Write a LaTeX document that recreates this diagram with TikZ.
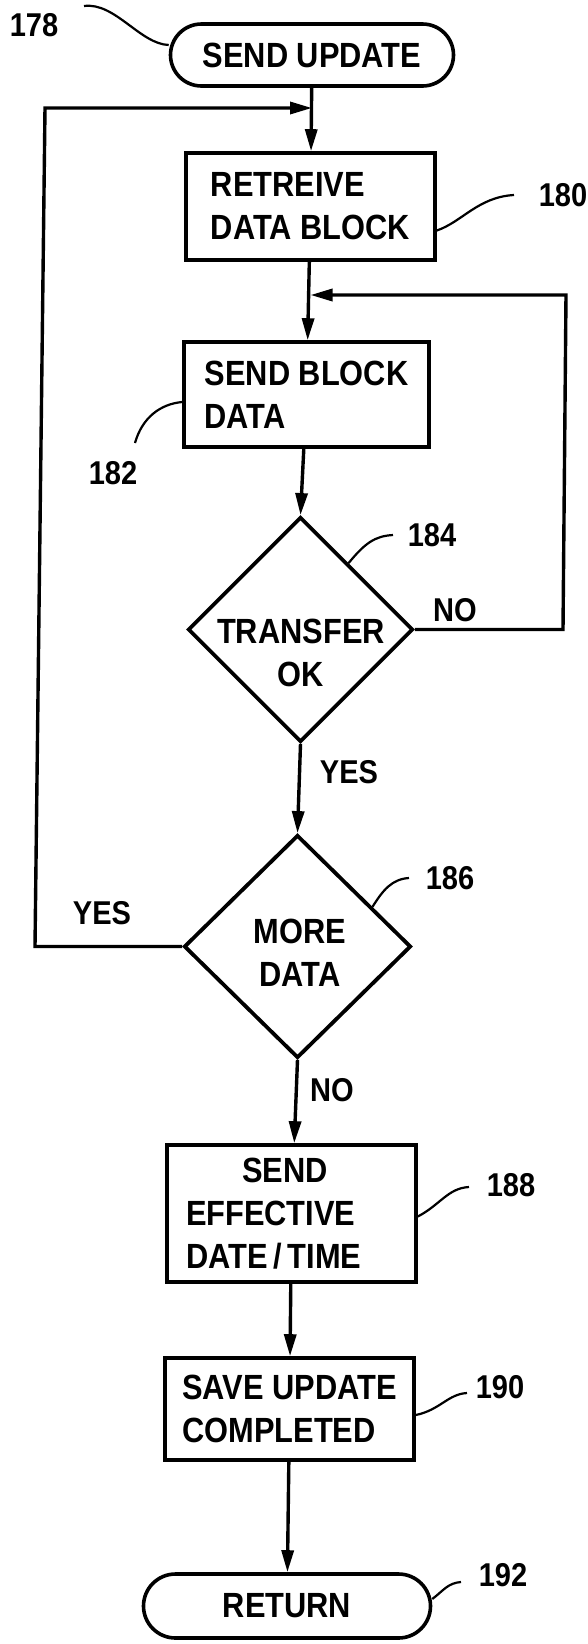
\documentclass[tikz,border=0pt]{standalone}
\usepackage{fontspec}
\setmainfont{Liberation Sans}[FakeStretch=0.88,UprightFont=* Bold]
\usetikzlibrary{arrows.meta,shapes.geometric,calc}
\newcommand{\boxfont}{\fontsize{35}{43}\selectfont}
\newcommand{\reffont}{\fontsize{33}{40}\selectfont}
\tikzset{
  base/.style={draw, line width=3.6pt, font=\boxfont},
  term/.style={base, rectangle, rounded corners=31pt, minimum height=62pt, inner sep=0pt},
  proc/.style={base, rectangle, align=left, inner sep=0pt},
  decision/.style={draw, line width=3.8pt, diamond, inner sep=0pt},
  dtext/.style={font=\boxfont, align=center, inner sep=0pt},
  ref/.style={font=\reffont, inner sep=0pt},
  leader/.style={line width=2.2pt},
  flow/.style={line width=3.4pt, -{Triangle[length=22pt,width=12pt]}}
}
\begin{document}
\begin{tikzpicture}[x=1pt,y=-1pt]
\useasboundingbox (0,0) rectangle (588,1644);
% nodes
\node[term, minimum width=283pt] (start) at (312,55) {SEND UPDATE};
\node[proc, minimum width=249pt, minimum height=107pt] (b180) at (310.5,206.5) {RETREIVE\\DATA BLOCK};
\node[proc, minimum width=245pt, minimum height=105pt] (b182) at (306.5,394.5) {SEND BLOCK\\DATA};
\node[decision, minimum width=225pt, minimum height=225pt] (d184) at (300.5,629.5) {};
\node[dtext] (t184) at (301,653) {TRANSFER\\OK};
\node[decision, minimum width=227pt, minimum height=223pt] (d186) at (297.5,946.5) {};
\node[dtext] (t186) at (300,953) {MORE\\DATA};
\node[proc, text width=211pt, inner xsep=19pt, minimum height=137pt] (b188) at (291.5,1213.5) {\hspace*{56pt}SEND\\EFFECTIVE\\DATE\,/\,TIME};
\node[proc, minimum width=249pt, minimum height=102pt] (b190) at (289.5,1409) {SAVE UPDATE\\COMPLETED};
\node[term, minimum width=287pt, minimum height=64pt, rounded corners=32pt] (ret) at (287,1606) {RETURN};
% reference labels
\node[ref] (l178) at (34,25) {178};
\node[ref] (l180) at (563,195) {180};
\node[ref] (l182) at (113,473) {182};
\node[ref] (l184) at (432,535) {184};
\node[ref] (l186) at (450,878) {186};
\node[ref] (l188) at (511,1185) {188};
\node[ref] (l190) at (500,1387) {190};
\node[ref] (l192) at (503,1575) {192};
\node[ref] (yes1) at (349,772) {YES};
\node[ref] (no1) at (455,610) {NO};
\node[ref] (yes2) at (102,913) {YES};
\node[ref] (no2) at (332,1090) {NO};
% loop coordinates
\coordinate (lt) at (45,108);
\coordinate (lb) at (35,942);
\coordinate (rt) at (566,295);
\coordinate (rb) at (563,636);
% connectors
\draw[flow] (start) -- (b180);
\draw[flow] (b180) -- (b182);
\draw[flow] (b182) -- (d184.north);
\draw[flow] (d184.south) -- (d186.north);
\draw[flow] (d186.south) -- (b188);
\draw[flow] (b188) -- (b190);
\draw[flow] (b190) -- (ret);
\draw[flow] (d186.west) -- (d186.west -| lb) -- (lt) -- (lt -| start.south);
\draw[flow] (d184.east) -- (d184.east -| rb) -- (rt) -- (rt -| b180.south);
% leaders
\coordinate (c178) at (84,6);
\coordinate (c180) at (514,195);
\coordinate (c182) at (135,443);
\coordinate (c184) at (393,535);
\coordinate (c186) at (409,878);
\coordinate (c188) at (469,1187);
\coordinate (c190) at (467,1393);
\coordinate (c192) at (461,1582);
\draw[leader] (c178) .. controls (115,2) and (140,44) .. ([yshift=10pt]start.west);
\draw[leader] ([yshift=-24pt]b180.east) .. controls (462,222) and (478,197) .. (c180);
\draw[leader] (c182) .. controls (142,418) and (160,404) .. ([yshift=-7.5pt]b182.west);
\draw[leader] ($(d184.north)!0.42!(d184.east)$) .. controls (365,543) and (375,536) .. (c184);
\draw[leader] ($(d186.north)!0.65!(d186.east)$) .. controls (383,890) and (392,879) .. (c186);
\draw[leader] ([yshift=-3pt]b188.east) .. controls (440,1205) and (448,1188) .. (c188);
\draw[leader] ([yshift=-6pt]b190.east) .. controls (440,1410) and (448,1394) .. (c190);
\draw[leader] ([yshift=7pt]ret.east) .. controls (444,1590) and (448,1583) .. (c192);
\end{tikzpicture}
\end{document}
